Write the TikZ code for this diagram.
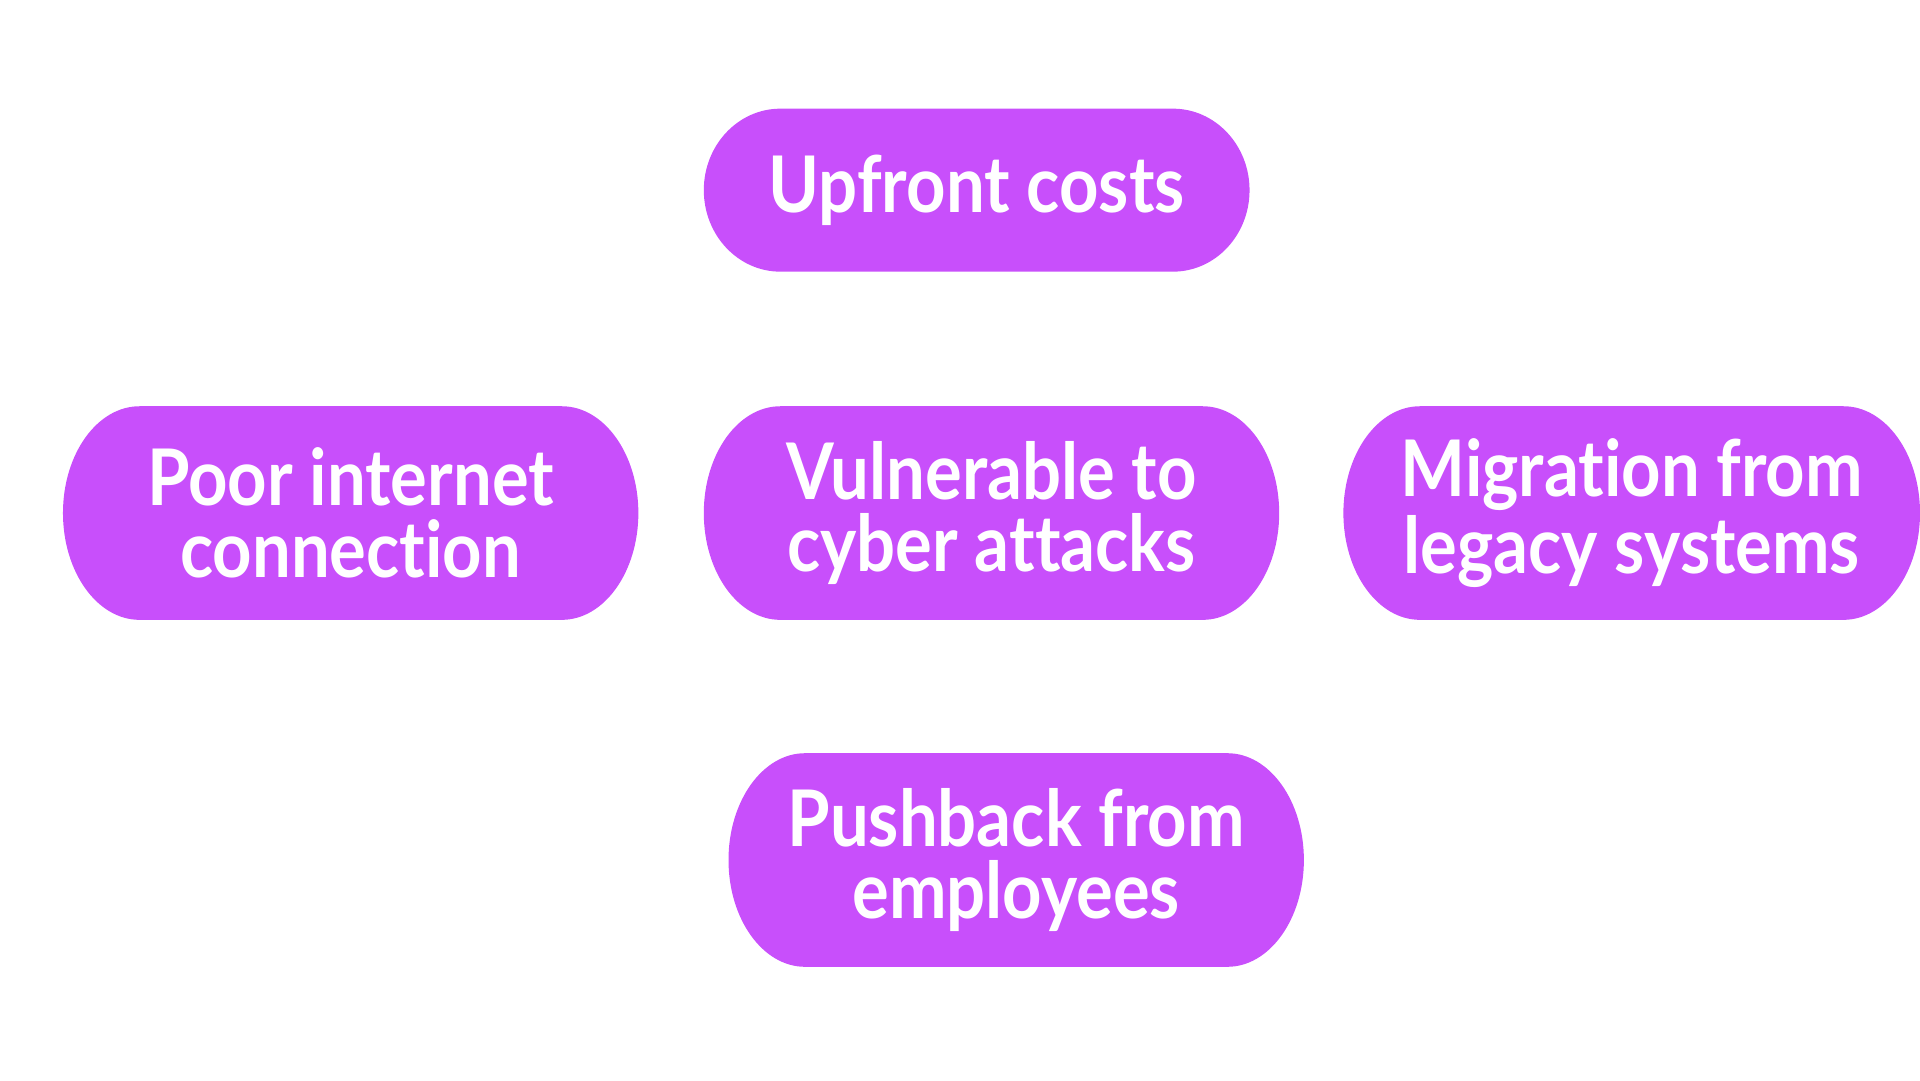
\documentclass[tikz,border=0pt]{standalone}
\usepackage{fontspec}
\setmainfont{Lato}[FakeStretch=0.88,Ligatures=NoCommon]
\begin{document}
\begin{tikzpicture}[x=0.01cm,y=-0.01cm]
\definecolor{pill}{HTML}{C84FFB}
\tikzset{lbl/.style={text=white,font=\bfseries\fontsize{18}{16.5}\selectfont,align=center,inner sep=0pt}}
\useasboundingbox (0,0) rectangle (1555,875);
\newcommand\pill[6]{% name, cx, cy, w, h, text
  \fill[pill] ({#2-#4/2+62},{#3-#5/2}) -- ({#2+#4/2-62},{#3-#5/2})
    arc[start angle=90,end angle=-90,x radius=62,y radius=-#5/2]
    -- ({#2-#4/2+62},{#3+#5/2})
    arc[start angle=270,end angle=90,x radius=62,y radius=-#5/2] -- cycle;
  \node[lbl] (#1) at (#2,#3) {#6};}
\pill{up}{791}{154}{442}{132}{Upfront costs}
\pill{poor}{284}{415.5}{466}{173}{Poor internet\\connection}
\pill{vul}{803}{415.5}{466}{173}{Vulnerable to\\cyber attacks}
\pill{mig}{1321.5}{415.5}{467}{173}{Migration from\\legacy systems}
\pill{push}{823}{696.5}{466}{173}{Pushback from\\employees}
\end{tikzpicture}
\end{document}
